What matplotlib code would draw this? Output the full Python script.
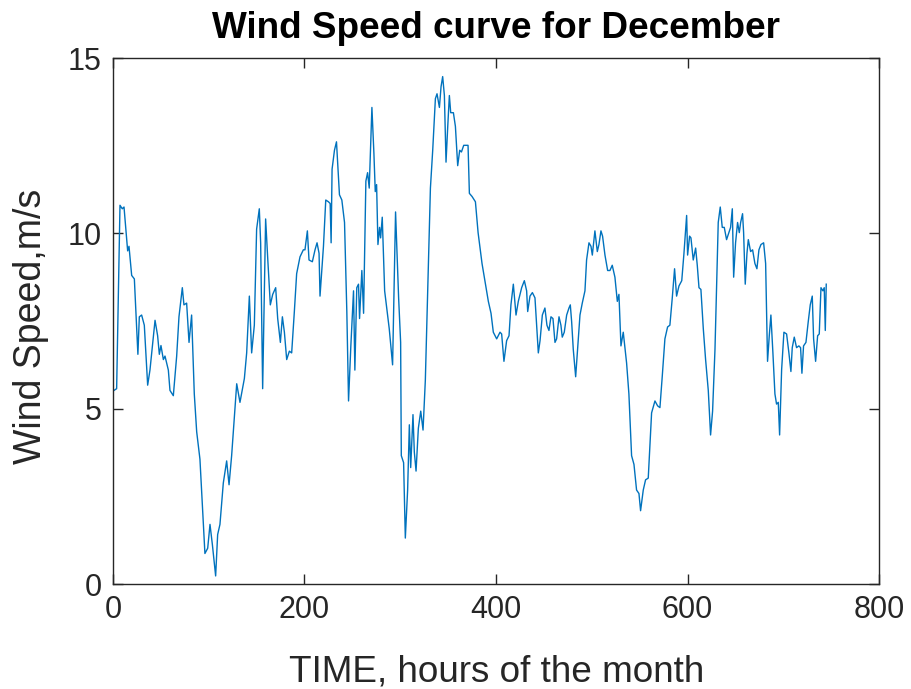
import numpy as np
import matplotlib
matplotlib.use('Agg')
import matplotlib.pyplot as plt

plt.rcParams['font.family'] = ['Liberation Sans', 'DejaVu Sans']

# hours of the month and wind speed (m/s)
hours = [1, 3.8, 7.3, 9.7, 11.5, 15.3, 16.7, 19.5, 22.3, 26, 27.5, 29.9, 32.7, 36.2, 38.6,
         43.9, 46.6, 48.4, 50.1, 52.6, 54.3, 57.8, 59.5, 63, 66.5, 68.9, 72.4, 74.1, 76.9,
         79.4, 82.1, 84.9, 87.4, 90.8, 96, 98.9, 101.3, 103.8, 107.2, 109.3, 111.7, 115.2,
         118.7, 121.2, 123.9, 126.7, 129.2, 132.6, 137.2, 139.6, 142.4, 144.8, 147.6, 150,
         152.8, 154.2, 156.3, 159.4, 161.5, 164.3, 166.8, 169.9, 172, 174.8, 176.9, 179,
         181.4, 184.2, 186.6, 189.4, 191.8, 195.3, 198.8,
         200.5, 203, 204.7, 208.2, 211, 213.1, 215.2, 216.2, 219.8, 222.2, 225, 226.8, 227.8,
         228.8, 231.3, 233.4, 236.5, 239, 241.8, 244.2, 246, 248.4, 251.2, 252.6, 254.6,
         256.4, 257.5, 259.9, 261.7, 264.1, 265.9, 267.6, 270.4, 272.5, 273.9, 275.3, 276.7,
         278.4, 279.5, 281.2, 283.7, 288.5, 292, 295.1, 298.3, 300.4, 301.1, 303.5, 305.3,
         307.7, 309.5, 310.9, 313.3, 314.7, 316.5, 318.9, 321.4, 323.8, 326.2, 329, 331.5,
         333.9, 336.7, 338.4, 340.9, 342.6, 344.3, 346.1, 347.8, 349.6, 351.3, 352.7, 355.5,
         357.6, 360, 362.1, 363.9, 366.3, 370.8, 372.2, 375, 378.5, 381.3, 385.4,
         392, 394.8, 397.2, 400.7, 404.2, 405.9, 408.3, 411.1, 413.6, 415.6, 418.1, 420.9,
         423.3, 426.8, 429.6, 432, 433.1, 435.5, 438, 440.7, 442.4, 444.2, 446, 448.4, 451.1,
         453.2, 455.3, 457.4, 459.5, 461.6, 463.3, 465.8, 467.8, 469.2, 471.3, 473.8, 476.2,
         477.6, 479, 480.7, 483.2, 485.2, 487.7, 490.1, 492.9, 494.6, 497.1, 499.2, 500.6,
         503.3, 505.8, 507.5, 509.6, 511.3, 513.8, 516.6, 519, 521.4, 524.2, 526.7, 528.4,
         530.5, 532.9, 536.4, 538.8, 541.6, 544.1, 546.8, 549.3, 551, 553.8, 556.2, 559,
         562.5, 566, 568.8, 571.2, 573.6, 576.4, 579.2, 581.6, 584.1, 586.5,
         588.6, 591.1, 594, 596.3, 599.1, 600.1, 602.2, 603.6, 606, 608.5, 610.2, 612, 614,
         616.5, 618.9, 621.7, 624.1, 626.2, 628.7, 630.7, 632.1, 634.2, 636.3, 638.4, 640.8,
         642.6, 645, 646.8, 648.2, 650.2, 652.3, 654.1, 655.5, 657.5, 658.6, 660.3, 662.1,
         663.5, 665.9, 668, 670.4, 672.5, 674.6, 676.7, 679.5, 681.6, 683.6, 685.4, 687.1,
         689.2, 691.3, 693, 694.8, 696.2, 698.3, 700.7, 703.5, 705.9, 708, 709.4, 711.5,
         713.9, 716.3, 718.1, 719.5, 721.2, 723.7, 726.1, 728.2, 730.3, 731.7, 733.8, 735.9,
         737.6, 739.4, 741.4, 742.8, 743.9, 744.9]

speed = [5.52, 5.57, 10.8, 10.7, 10.75, 9.5, 9.63, 8.8, 8.7, 6.55, 7.62, 7.67, 7.38, 5.67, 6.1,
         7.52, 7.08, 6.55, 6.8, 6.4, 6.5, 6.1, 5.52, 5.37, 6.5, 7.62, 8.45, 7.96, 8.01,
         6.89, 7.67, 5.42, 4.34, 3.56, 0.87, 1.02, 1.70, 1.12, 0.23, 1.41, 1.70, 2.88,
         3.51, 2.83, 3.66, 4.74, 5.71, 5.18, 5.86, 6.59, 8.21, 6.59, 7.38, 10.12,
         10.7, 9.73, 5.57, 10.41, 9.33, 7.96, 8.26, 8.45, 7.57, 6.89, 7.62, 7.18,
         6.4, 6.64, 6.59, 7.77, 8.85, 9.33, 9.53,
         9.53, 10.07, 9.24, 9.19, 9.53, 9.73, 9.43, 8.21, 9.63, 10.95, 10.9, 10.85, 9.73,
         11.83, 12.37, 12.61, 11.1, 10.95, 10.31, 7.77, 5.22, 6.79, 8.36, 6.1, 8.45,
         8.55, 7.57, 8.94, 7.72, 11.49, 11.73, 11.29, 13.59, 12.27, 11.19, 11.39, 9.68,
         10.17, 9.87, 10.46, 8.36, 7.28, 6.25, 10.61, 8.16, 6.89, 3.66, 3.46, 1.31,
         2.68, 4.54, 3.32, 4.83, 3.76, 3.22, 4.44, 4.93, 4.39, 5.81, 8.75, 11.29,
         12.37, 13.84, 13.98, 13.59, 14.18, 14.47, 13.93, 12.03, 13.05, 13.93, 13.44, 13.44,
         13.05, 11.93, 12.37, 12.32, 12.51, 12.51, 11.14, 11.05, 10.9, 10.02, 9.14,
         8.06, 7.72, 7.18, 6.99, 7.18, 7.13, 6.35, 6.94, 7.08, 7.96, 8.55, 7.67,
         8.06, 8.45, 8.65, 8.36, 7.77, 8.21, 8.31, 8.16, 7.38, 6.59, 6.94, 7.67, 7.87,
         7.38, 7.23, 7.62, 7.57, 6.89, 6.99, 7.62, 7.38, 7.04, 7.18, 7.67, 7.87,
         7.96, 7.48, 6.69, 5.91, 6.69, 7.67, 8.01, 8.36, 9.24, 9.73, 9.63, 9.38,
         10.07, 9.48, 9.68, 10.07, 9.92, 9.38, 8.94, 8.94, 9.09, 8.75, 8.06, 8.26,
         6.79, 7.18, 6.30, 5.42, 3.66, 3.41, 2.68, 2.58, 2.09, 2.68, 2.97, 3.02,
         4.88, 5.22, 5.08, 5.03, 5.91, 6.99, 7.33, 7.38, 8.16, 8.99,
         8.21, 8.50, 8.65, 9.43, 10.51, 9.38, 9.92, 9.87, 9.24, 9.58, 9.09, 8.45, 8.4,
         7.28, 6.4, 5.52, 4.25, 4.93, 6.69, 8.85, 10.31, 10.75, 10.17, 10.17, 9.82,
         9.97, 10.17, 10.70, 8.75, 9.73, 10.31, 10.02, 10.31, 10.56, 10.02, 8.55, 9.43,
         9.82, 9.48, 9.53, 9.14, 8.99, 9.53, 9.68, 9.73, 9.14, 6.35, 7.08, 7.67,
         6.59, 5.42, 5.13, 5.18, 4.25, 6.11, 7.18, 7.13, 6.59, 6.06, 6.74, 7.04,
         6.74, 6.79, 6.74, 6.01, 6.79, 6.89, 7.48, 7.96, 8.21, 6.99, 6.35, 7.08,
         7.13, 8.45, 8.36, 8.45, 7.23, 8.55]

xticks = [0, 200, 400, 600, 800]
yticks = [0, 5, 10, 15]

fig = plt.figure(figsize=(9.12, 6.89), dpi=100)
ax = fig.add_axes([113/912, 1-584/689, (879-113)/912, (584-58)/689])

ax.plot(hours, speed, color='#0072BD', linewidth=1.0)

ax.set_xlim(0, 800)
ax.set_ylim(0, 15)
ax.set_xticks(xticks)
ax.set_yticks(yticks)
ax.tick_params(direction='in', length=7, width=1, top=True, right=True,
               labelsize=22, colors='#262626', pad=8)
for s in ax.spines.values():
    s.set_color('#262626')
    s.set_linewidth(1)

fig.text(496/912, 1-38/689, 'Wind Speed curve for December', ha='center', va='baseline',
         fontsize=26.6, fontweight='bold', color='black')
fig.text(497/912, 1-682/689, 'TIME, hours of the month', ha='center', va='baseline',
         fontsize=26.6, color='#262626')
fig.text(31/912, 1-326/689, 'Wind Speed,m/s', ha='center', va='center', rotation=90,
         fontsize=27, color='#262626')

plt.savefig('out.png', dpi=100)
